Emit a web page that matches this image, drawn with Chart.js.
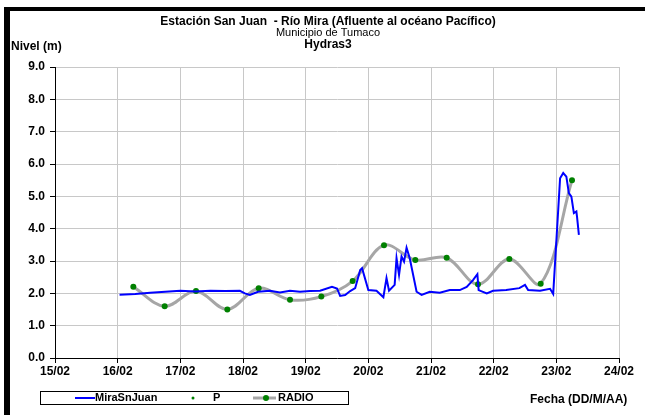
<!DOCTYPE html>
<html lang="es">
<head>
<meta charset="UTF-8">
<title>Estación San Juan - Río Mira</title>
<script src="https://cdn.jsdelivr.net/npm/chart.js"></script>
<style>
  body { margin: 0; background: #fff; }
  #grafico { display: block; }
</style>
</head>
<body>
<canvas id="grafico" width="645" height="415"></canvas>
<script>
// etiquetas del eje X (días de febrero)
const etiquetasFecha = ['15/02', '16/02', '17/02', '18/02', '19/02', '20/02', '21/02', '22/02', '23/02', '24/02'];
const ticksNivel = [0, 1, 2, 3, 4, 5, 6, 7, 8, 9];

// serie MiraSnJuan (día decimal, nivel en m)
const fechasMira = [16.03, 16.28, 16.52, 16.76, 17.0, 17.24, 17.48, 17.72, 17.95, 18.03, 18.11, 18.24, 18.43, 18.59, 18.75, 18.91,
  19.07, 19.23, 19.42, 19.5, 19.55, 19.63, 19.71, 19.79, 19.87, 19.9, 20.0, 20.13, 20.24, 20.29, 20.33, 20.42, 20.45, 20.49,
  20.53, 20.57, 20.61, 20.66, 20.77, 20.85, 20.98, 21.14, 21.3, 21.46, 21.57, 21.67, 21.74, 21.76, 21.89, 21.99, 22.2, 22.41,
  22.5, 22.55, 22.74, 22.9, 22.95, 23.06, 23.11, 23.16, 23.2, 23.24, 23.28, 23.32, 23.33, 23.36];
const nivelMira = [1.96, 1.98, 2.02, 2.05, 2.08, 2.06, 2.08, 2.07, 2.08, 2.0, 1.95, 2.05, 2.08, 2.03, 2.08, 2.05,
  2.07, 2.08, 2.2, 2.15, 1.92, 1.95, 2.07, 2.16, 2.72, 2.78, 2.1, 2.08, 1.88, 2.47, 2.08, 2.26, 3.09, 2.57,
  3.14, 2.98, 3.41, 3.09, 2.05, 1.95, 2.05, 2.02, 2.1, 2.1, 2.2, 2.41, 2.59, 2.1, 2.0, 2.08, 2.1, 2.16,
  2.26, 2.1, 2.08, 2.14, 1.98, 5.56, 5.72, 5.61, 5.1, 4.99, 4.48, 4.53, 4.37, 3.81];

// serie P (sin datos en el periodo)
const fechasP = [];
const nivelP = [];

// serie RADIO
const fechasRadio = [16.25, 16.75, 17.25, 17.75, 18.25, 18.75, 19.25, 19.75, 20.25, 20.75, 21.25, 21.75, 22.25, 22.75, 23.25];
const nivelRadio = [2.2, 1.6, 2.07, 1.5, 2.16, 1.8, 1.9, 2.38, 3.49, 3.03, 3.1, 2.28, 3.06, 2.3, 5.5];

const fuente = "'Liberation Sans', Arial, sans-serif";
const verde = '#008000';
const azul = '#0000ff';
const gris = '#a6a6a6';

const puntos = (xs, ys) => xs.map((x, i) => ({ x: x, y: ys[i] }));

// marco, títulos y leyenda
const decoracion = {
  id: 'decoracion',
  afterDraw(chart) {
    const ctx = chart.ctx;
    ctx.save();
    ctx.fillStyle = '#000';
    ctx.fillRect(4, 7, 641, 4);
    ctx.fillRect(4, 7, 6, 408);

    ctx.textAlign = 'center';
    ctx.textBaseline = 'middle';
    ctx.font = 'bold 12px ' + fuente;
    ctx.fillText('Estación San Juan  - Río Mira (Afluente al océano Pacífico)', 328, 22);
    ctx.font = '11px ' + fuente;
    ctx.fillText('Municipio de Tumaco', 328, 33);
    ctx.font = 'bold 12px ' + fuente;
    ctx.fillText('Hydras3', 328, 44.5);

    ctx.textAlign = 'left';
    ctx.fillText('Nivel (m)', 11, 47);
    ctx.fillText('Fecha (DD/M/AA)', 530, 400);

    // leyenda
    ctx.strokeStyle = '#000';
    ctx.lineWidth = 1;
    ctx.strokeRect(40.5, 391.5, 308, 13);
    const yl = 398;
    ctx.strokeStyle = azul;
    ctx.lineWidth = 2;
    ctx.beginPath(); ctx.moveTo(75, yl); ctx.lineTo(95, yl); ctx.stroke();
    ctx.fillStyle = '#000';
    ctx.font = 'bold 11px ' + fuente;
    ctx.fillText('MiraSnJuan', 95, yl);
    ctx.fillStyle = verde;
    ctx.beginPath(); ctx.arc(193, yl, 1.5, 0, Math.PI * 2); ctx.fill();
    ctx.fillStyle = '#000';
    ctx.fillText('P', 213, yl);
    ctx.strokeStyle = gris;
    ctx.lineWidth = 3;
    ctx.beginPath(); ctx.moveTo(253, yl); ctx.lineTo(276, yl); ctx.stroke();
    ctx.fillStyle = verde;
    ctx.beginPath(); ctx.arc(266, yl, 3, 0, Math.PI * 2); ctx.fill();
    ctx.fillStyle = '#000';
    ctx.fillText('RADIO', 278, yl);
    ctx.restore();
  }
};

new Chart(document.getElementById('grafico'), {
  type: 'line',
  data: {
    datasets: [
      {
        label: 'MiraSnJuan',
        data: puntos(fechasMira, nivelMira),
        borderColor: azul,
        borderWidth: 2,
        pointRadius: 0,
        tension: 0
      },
      {
        label: 'P',
        data: puntos(fechasP, nivelP),
        showLine: false,
        pointRadius: 1.5,
        pointBackgroundColor: verde,
        pointBorderWidth: 0
      },
      {
        label: 'RADIO',
        data: puntos(fechasRadio, nivelRadio),
        borderColor: gris,
        borderWidth: 3,
        tension: 0.35,
        pointRadius: 3,
        pointBackgroundColor: verde,
        pointBorderWidth: 0
      }
    ]
  },
  options: {
    responsive: false,
    animation: false,
    layout: { padding: { top: 67, right: 26, bottom: 0, left: 0 } },
    plugins: {
      legend: { display: false },
      title: { display: false },
      tooltip: { enabled: false }
    },
    scales: {
      x: {
        type: 'linear',
        min: 15,
        max: 24,
        afterFit: s => { s.height = 57; },
        afterBuildTicks: s => { s.ticks = etiquetasFecha.map((e, i) => ({ value: 15 + i })); },
        ticks: {
          color: '#000',
          font: { family: fuente, size: 12, weight: 'bold' },
          padding: 1,
          maxRotation: 0,
          callback: (v, i) => etiquetasFecha[i]
        },
        grid: { color: '#c8c8c8', tickColor: '#000', tickLength: 5 },
        border: { color: '#000' }
      },
      y: {
        min: 0,
        max: 9,
        afterFit: s => { s.width = 55; },
        afterBuildTicks: s => { s.ticks = ticksNivel.map(v => ({ value: v })); },
        ticks: {
          color: '#000',
          font: { family: fuente, size: 12, weight: 'bold' },
          padding: 5,
          callback: v => v.toFixed(1)
        },
        grid: { color: '#c8c8c8', tickColor: '#000', tickLength: 5 },
        border: { color: '#000' }
      }
    }
  },
  plugins: [decoracion]
});
</script>
</body>
</html>
